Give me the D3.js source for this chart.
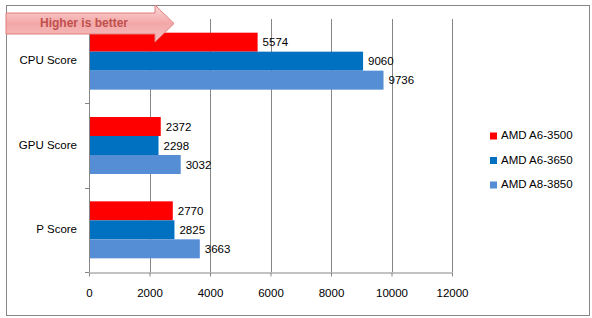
<!DOCTYPE html>
<html>
<head>
<meta charset="utf-8">
<script src="https://cdn.jsdelivr.net/npm/d3@7"></script>
<style>
  body { margin: 0; background: #fff; }
  svg text { font-family: "Liberation Sans", Arial, sans-serif; }
</style>
</head>
<body>
<div id="okvir"></div>
<script>
// podaci
const kategorije = ["CPU Score", "GPU Score", "P Score"];
const serije = ["AMD A6-3500", "AMD A6-3650", "AMD A8-3850"];
const a6_3500 = [5574, 2372, 2770];
const a6_3650 = [9060, 2298, 2825];
const a8_3850 = [9736, 3032, 3663];
const xTicks = [0, 2000, 4000, 6000, 8000, 10000, 12000];
const boje = ["#ff0000", "#0070c0", "#558ed5"];

function crtaj() {
    const sirina = 592, visina = 318;
    const dim = { left: 89, right: 452, top: 19, bottom: 272 };

    const okvir = d3.select("#okvir").append("svg")
        .attr("width", sirina).attr("height", visina);

    // vanjski okvir
    okvir.append("rect")
        .attr("x", 6.5).attr("y", 5.5)
        .attr("width", 583).attr("height", 310)
        .attr("fill", "#fff").attr("stroke", "#868686");

    const xSkala = d3.scaleLinear().domain([0, 12000]).range([dim.left, dim.right]);
    const ySkala = d3.scaleBand().domain(kategorije).range([dim.top, dim.bottom]);
    const unutra = d3.scaleBand().domain(serije)
        .range([0, ySkala.bandwidth()]).paddingOuter(0.72).paddingInner(0);

    // mreza
    okvir.append("g").selectAll("line").data(xTicks.slice(1)).join("line")
        .attr("x1", d => Math.round(xSkala(d)) + 0.5)
        .attr("x2", d => Math.round(xSkala(d)) + 0.5)
        .attr("y1", dim.top).attr("y2", dim.bottom)
        .attr("stroke", "#868686");

    // x os
    const xOs = okvir.append("g")
        .attr("transform", `translate(0,${dim.bottom + 0.5})`)
        .call(d3.axisBottom(xSkala).tickValues(xTicks).tickFormat(d3.format("d"))
            .tickSize(4).tickPadding(12).tickSizeOuter(0));
    xOs.select(".domain").attr("stroke", "#868686");
    xOs.selectAll(".tick line").attr("stroke", "#868686");
    xOs.selectAll("text").attr("font-size", 11.5).attr("fill", "#000");

    // y os
    const granice = [dim.top, ...kategorije.map(k => ySkala(k) + ySkala.bandwidth())];
    okvir.append("line")
        .attr("x1", dim.left + 0.5).attr("x2", dim.left + 0.5)
        .attr("y1", dim.top).attr("y2", dim.bottom)
        .attr("stroke", "#868686");
    okvir.append("g").selectAll("line").data(granice.slice(1)).join("line")
        .attr("x1", dim.left - 4).attr("x2", dim.left)
        .attr("y1", d => Math.round(d) + 0.5).attr("y2", d => Math.round(d) + 0.5)
        .attr("stroke", "#868686");
    okvir.append("g").selectAll("text").data(kategorije).join("text")
        .attr("x", 77).attr("y", d => ySkala(d) + ySkala.bandwidth() / 2)
        .attr("text-anchor", "end").attr("dominant-baseline", "middle")
        .attr("font-size", 11.5).text(d => d);

    // stupci
    const vrijednosti = [a6_3500, a6_3650, a8_3850];
    const podatci = [];
    serije.forEach((s, i) => kategorije.forEach((k, j) =>
        podatci.push({ serija: s, kat: k, v: vrijednosti[i][j], boja: boje[i] })));

    okvir.append("g").selectAll("rect").data(podatci).join("rect")
        .attr("x", xSkala(0) + 1)
        .attr("y", d => ySkala(d.kat) + unutra(d.serija))
        .attr("width", d => xSkala(d.v) - xSkala(0) - 1)
        .attr("height", unutra.bandwidth())
        .attr("fill", d => d.boja);

    okvir.append("g").selectAll("text").data(podatci).join("text")
        .attr("x", d => xSkala(d.v) + 5)
        .attr("y", d => ySkala(d.kat) + unutra(d.serija) + unutra.bandwidth() / 2 + 1)
        .attr("dominant-baseline", "middle")
        .attr("font-size", 11.5).text(d => d.v);

    // legenda
    const legenda = okvir.append("g").selectAll("g").data(serije).join("g")
        .attr("transform", (d, i) => `translate(490,${136 + i * 24.5})`);
    legenda.append("rect").attr("x", 0).attr("y", -3.5).attr("width", 7).attr("height", 7)
        .attr("fill", (d, i) => boje[i]);
    legenda.append("text").attr("x", 11).attr("y", 0)
        .attr("dominant-baseline", "middle").attr("font-size", 11.5).text(d => d);

    // strelica "Higher is better"
    const defs = okvir.append("defs");
    const grad = defs.append("linearGradient").attr("id", "gr")
        .attr("x1", 0).attr("y1", 0).attr("x2", 0).attr("y2", 1);
    grad.append("stop").attr("offset", 0).attr("stop-color", "#fbd9d9");
    grad.append("stop").attr("offset", 0.5).attr("stop-color", "#f3a7a7");
    grad.append("stop").attr("offset", 1).attr("stop-color", "#f5c0c0");
    okvir.append("path")
        .attr("d", "M6,13 L155,13 L155,5 L174,23.5 L155,42 L155,34 L6,34 Z")
        .attr("fill", "url(#gr)").attr("stroke", "#e07d7d").attr("stroke-width", 1);
    okvir.append("text")
        .attr("x", 84).attr("y", 24)
        .attr("text-anchor", "middle").attr("dominant-baseline", "middle")
        .attr("font-size", 12).attr("font-weight", "bold")
        .attr("fill", "#c0504d").text("Higher is better");
}
crtaj();
</script>
</body>
</html>
